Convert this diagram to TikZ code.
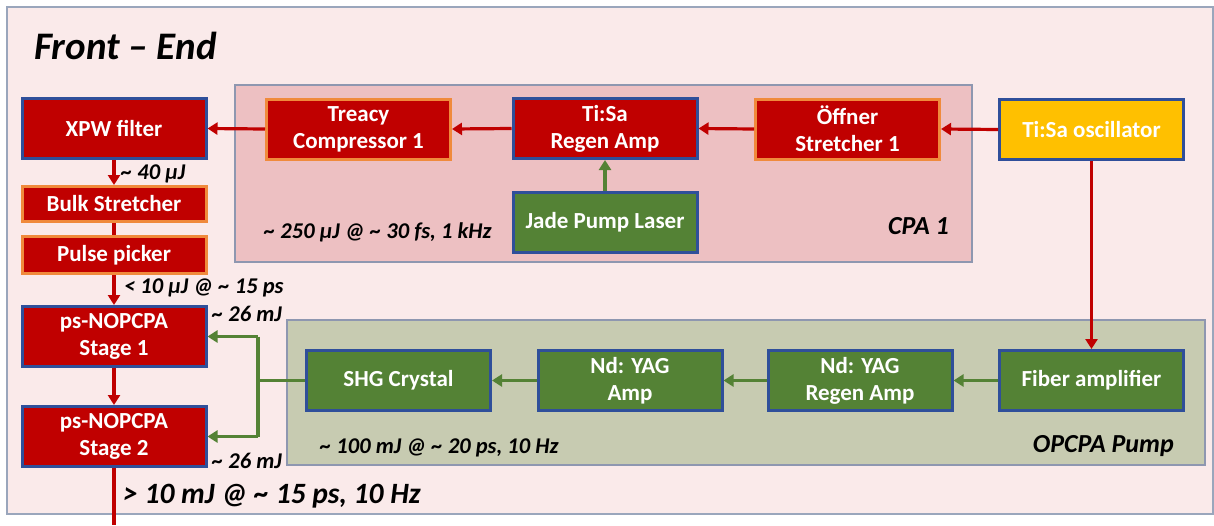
\documentclass[tikz,border=0pt]{standalone}
\usepackage{fontspec}
\setmainfont{Carlito}
\usetikzlibrary{arrows.meta}
\definecolor{bgpink}{HTML}{FAEAEA}
\definecolor{framec}{HTML}{9AA6BC}
\definecolor{cpabg}{HTML}{EDC0C2}
\definecolor{opbg}{HTML}{C7CBB1}
\definecolor{dred}{HTML}{C00000}
\definecolor{bblue}{HTML}{2F4F9A}
\definecolor{orng}{HTML}{F08A3C}
\definecolor{dgreen}{HTML}{548235}
\definecolor{ylw}{HTML}{FFC000}
\definecolor{boxline}{HTML}{8E97B0}
\tikzset{
  blk/.style={minimum width=184pt, minimum height=60pt, line width=3pt, align=center,
     text=white, font=\fontsize{23}{27}\selectfont\bfseries, inner sep=1pt},
  redblue/.style={blk, fill=dred, draw=bblue},
  redorg/.style={blk, fill=dred, draw=orng},
  grnblue/.style={blk, fill=dgreen, draw=bblue},
  ylwblue/.style={blk, fill=ylw, draw=bblue},
  lbl/.style={font=\fontsize{22.5}{25}\selectfont\bfseries\itshape, text=black, inner sep=0pt},
  rarr/.style={draw=dred, line width=3.2pt, -{Triangle[length=10pt,width=12pt]}},
  rline/.style={draw=dred, line width=3.2pt},
  garr/.style={draw=dgreen, line width=3.2pt, -{Triangle[length=10pt,width=12pt]}},
  gline/.style={draw=dgreen, line width=3.2pt},
}
\begin{document}
\begin{tikzpicture}[x=1pt,y=-1pt]
\useasboundingbox (0,0) rectangle (1214,525);
\fill[white] (0,0) rectangle (1214,525);
% outer frame
\draw[framec, fill=bgpink, line width=1.5pt] (7,7) rectangle (1213,514);
% group boxes
\draw[boxline, fill=cpabg, line width=1.5pt] (235,85) rectangle (972,262);
\draw[boxline, fill=opbg, line width=1.5pt] (287,320) rectangle (1205,465);
% title
\node[anchor=west, font=\fontsize{39}{42}\selectfont\bfseries\itshape, inner sep=0pt] (title) at (34,46) {Front -- End};
% left column
\node[redblue] (xpw) at (114,128.5) {XPW filter};
\node[redorg, minimum height=35pt] (bulk) at (114,204) {Bulk Stretcher};
\node[redorg, minimum height=37pt] (pulse) at (114,255) {Pulse picker};
\node[redblue] (st1) at (114,336.5) {ps-NOPCPA\\Stage 1};
\node[redblue] (st2) at (114,436.5) {ps-NOPCPA\\Stage 2};
\coordinate (outc) at (114,525);
% CPA 1
\node[redorg] (treacy) at (358.5,129) {Treacy\\Compressor 1};
\node[redblue] (regen) at (605,128.5) {Ti:Sa\\Regen Amp};
\node[grnblue] (jade) at (605,222.5) {Jade Pump Laser};
\node[redorg] (offner) at (847.5,129) {Öffner\\Stretcher 1};
\node[ylwblue] (osc) at (1091.5,129.5) {Ti:Sa oscillator};
% OPCPA pump
\node[grnblue] (shg) at (398.5,380.5) {SHG Crystal};
\node[grnblue] (ndamp) at (630,380.5) {Nd: YAG\\Amp};
\node[grnblue] (ndregen) at (860,380.5) {Nd: YAG\\Regen Amp};
\node[grnblue] (fiber) at (1091.5,380.5) {Fiber amplifier};
% labels
\node[lbl, anchor=west] (l40) at (121,174) {\textasciitilde\ 40 µJ};
\node[lbl, anchor=west] (l10) at (124,288) {< 10 µJ @ \textasciitilde\ 15 ps};
\node[lbl, anchor=west] (l26a) at (212,314) {\textasciitilde\ 26 mJ};
\node[lbl, anchor=west] (l26b) at (212,461) {\textasciitilde\ 26 mJ};
\node[lbl, anchor=west, font=\fontsize{29.5}{32}\selectfont\bfseries\itshape] (lout) at (123,496) {> 10 mJ @ \textasciitilde\ 15 ps, 10 Hz};
\node[lbl, anchor=west] (l250) at (264,232) {\textasciitilde\ 250 µJ @ \textasciitilde\ 30 fs, 1 kHz};
\node[lbl, anchor=east, font=\fontsize{26}{28}\selectfont\bfseries\itshape] (lcpa) at (949,226) {CPA 1};
\node[lbl, anchor=west] (l100) at (320,448) {\textasciitilde\ 100 mJ @ \textasciitilde\ 20 ps, 10 Hz};
\node[lbl, anchor=east, font=\fontsize{26}{28}\selectfont\bfseries\itshape] (lop) at (1174,446) {OPCPA Pump};
% red connectors
\draw[rarr] (osc.west) -- (offner.east);
\draw[rarr] (offner.west) -- (regen.east);
\draw[rarr] (regen.west) -- (treacy.east);
\draw[rarr] (treacy.west) -- (xpw.east);
\draw[rarr] (xpw.south) -- (bulk.north);
\draw[rline] (bulk.south) -- (pulse.north);
\draw[rarr] (pulse.south) -- (st1.north);
\draw[rarr] (st1.south) -- (st2.north);
\draw[rline] (st2.south) -- (outc);
\draw[rarr] (osc.south) -- (fiber.north);
% green connectors
\draw[garr] (jade.north) -- (regen.south);
\draw[garr] (fiber.west) -- (ndregen.east);
\draw[garr] (ndregen.west) -- (ndamp.east);
\draw[garr] (ndamp.west) -- (shg.east);
\coordinate (split) at (258,380.5);
\coordinate (sup1) at (258,336.5);
\coordinate (sdn2) at (258,436.5);
\draw[gline] (shg.west) -- (split);
\draw[gline] (sup1) -- (sdn2);
\draw[garr] (sup1) -- (st1.east);
\draw[garr] (sdn2) -- (st2.east);
\end{tikzpicture}
\end{document}
